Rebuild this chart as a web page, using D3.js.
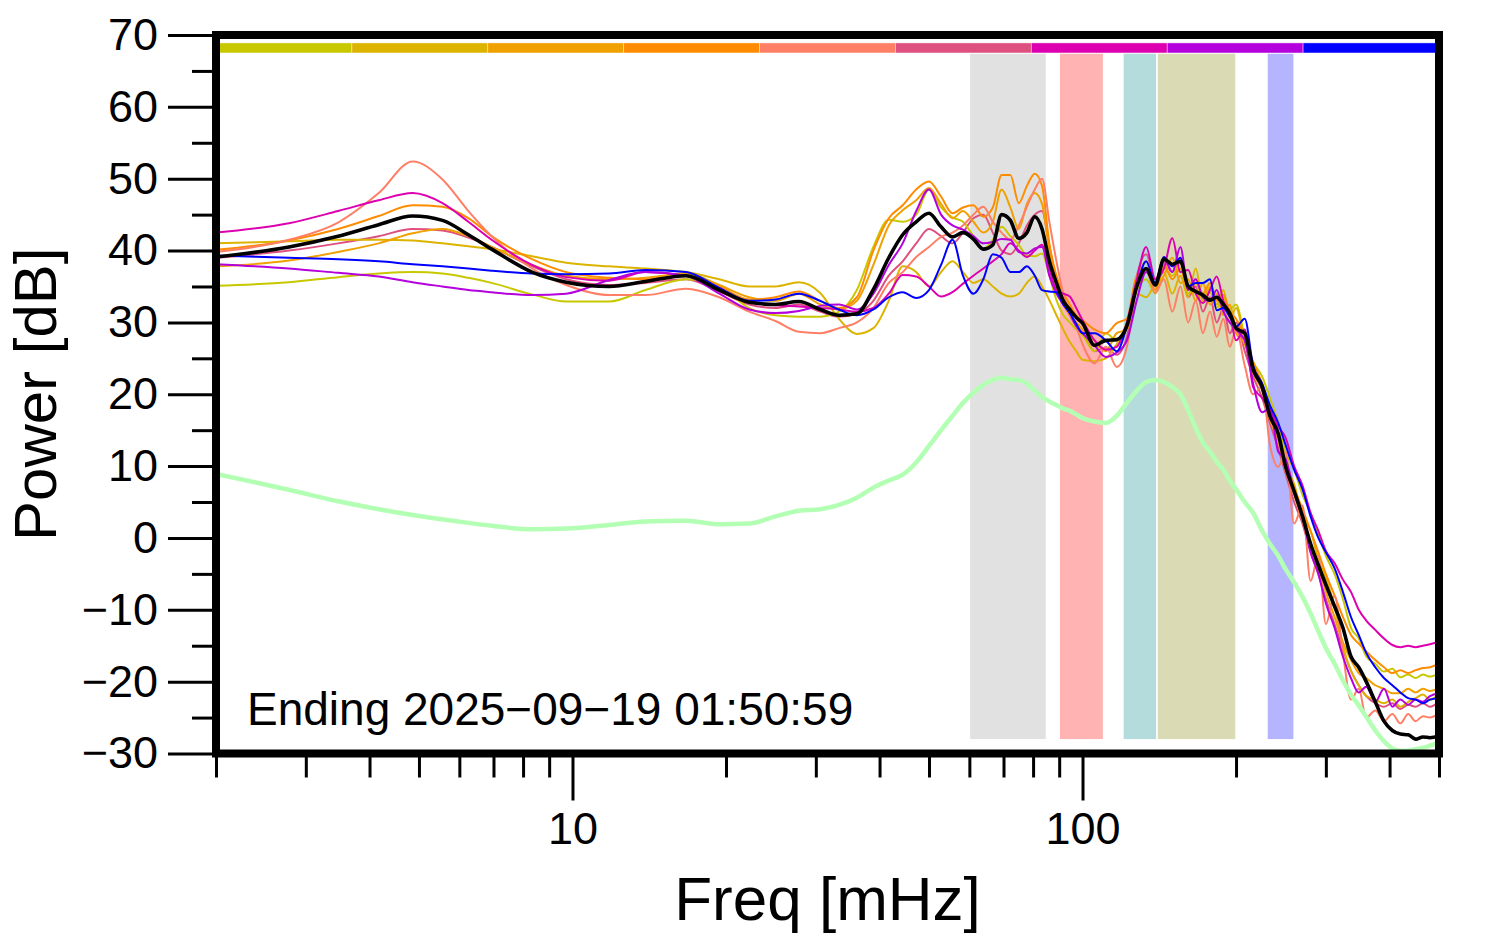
<!DOCTYPE html>
<html><head><meta charset="utf-8">
<script src="https://cdn.jsdelivr.net/npm/d3@7"></script>
<style>body{margin:0;background:#fff}</style>
</head><body>
<svg id="chart" width="1494" height="952"></svg>
<script>
// ---------------- data ----------------
const freq = [2.0, 2.78, 3.47, 4.17, 4.86, 5.56, 6.25, 6.94, 8.33, 9.72,
  11.8, 13.9, 16.7, 19.4, 22.2, 25.0, 27.8, 30.6, 33.3, 36.1,
  38.9, 41.7, 44.4, 47.2, 50.0, 52.8, 55.6, 58.3, 61.1, 63.9,
  66.7, 69.4, 72.2, 75.0, 77.8, 80.6, 83.3, 86.1, 88.9, 91.7,
  94.4, 97.2, 100, 105.6, 111.1, 116.7, 122.2, 127.8, 133.3, 138.9,
  144.4, 150, 155.6, 161.1, 166.7, 172.2, 177.8, 183.3, 188.9, 194.4,
  200, 208, 216, 225, 233, 242, 250, 260, 270, 280,
  290, 300, 312, 324, 336, 348, 360, 375, 390, 405,
  420, 435, 450, 465, 480, 500];

const yellowGreen = [35.1, 35.6, 36.3, 36.8, 37.0, 36.8, 36.2, 35.5, 33.9, 32.9,
  32.9, 34.5, 36.0, 35.0, 32.0, 31.0, 30.8, 30.8, 31.5, 34.5,
  40.5, 44.3, 44.0, 45.0, 48.5, 46.0, 44.6, 44.0, 42.0, 40.2,
  41.5, 43.3, 42.0, 40.8, 39.3, 39.2, 39.6, 36.5, 33.1, 31.0,
  30.0, 29.0, 28.2, 26.0, 28.5, 27.5, 30.0, 34.5, 36.0, 34.0,
  37.5, 36.5, 38.2, 34.0, 35.5, 33.0, 34.2, 32.0, 33.5, 31.8,
  32.5, 28.0, 24.5, 22.5, 19.5, 16.0, 12.0, 9.5, 6.0, 3.5,
  0.5, -2.5, -5.0, -8.5, -12.5, -14.0, -16.5, -17.5, -18.6, -18.2,
  -19.4, -19.0, -19.5, -19.0, -19.3, -18.8];

const goldenrod = [41.0, 41.3, 41.5, 41.5, 41.4, 41.0, 40.6, 40.2, 39.2, 38.3,
  37.8, 37.5, 37.0, 36.0, 35.0, 35.0, 35.6, 34.1, 30.5, 28.4,
  29.2, 33.0, 37.8, 37.0, 35.0, 37.0, 38.5, 37.0, 35.5, 36.0,
  35.0, 34.0, 33.6, 34.0, 35.5, 36.4, 35.0, 33.1, 31.0, 29.0,
  27.3, 26.0, 24.8, 24.6, 25.0, 27.0, 29.5, 34.0, 33.5, 35.5,
  37.0, 34.0, 36.5, 33.5, 37.5, 33.0, 35.0, 32.5, 34.5, 30.5,
  32.0, 27.5, 24.0, 21.0, 17.5, 14.0, 10.0, 7.5, 3.0, 1.0,
  -3.0, -5.5, -9.5, -15.0, -18.5, -20.5, -22.0, -22.5, -23.0, -22.5,
  -23.5, -22.8, -22.3, -21.8, -22.5, -21.8];

const orangeLight = [37.8, 38.6, 39.8, 41.0, 42.4, 43.0, 42.0, 40.5, 38.0, 36.5,
  36.0, 36.2, 36.8, 35.2, 33.5, 33.0, 34.0, 32.5, 31.8, 33.0,
  38.0, 43.5, 45.6, 47.0, 48.7, 46.5, 44.5, 45.5, 44.0, 42.5,
  44.0, 48.5, 46.0, 43.0, 46.5, 48.0, 46.5, 40.0, 35.0, 32.5,
  31.0, 30.0, 29.0, 27.5, 26.0, 28.5, 29.0, 35.5, 38.5, 35.0,
  36.5, 39.0, 35.5, 36.0, 33.0, 35.5, 32.5, 34.0, 31.0, 32.5,
  28.5, 27.0, 23.0, 20.5, 16.5, 13.5, 9.5, 6.0, 2.5, -1.0,
  -4.0, -7.5, -11.0, -14.5, -17.0, -18.8, -19.5, -20.5, -21.0, -21.6,
  -21.6, -21.0, -21.5, -21.0, -21.3, -20.9];

const orangeDark = [40.1, 41.4, 43.0, 44.8, 46.3, 46.1, 44.5, 42.0, 38.8, 37.0,
  36.2, 36.0, 36.5, 35.0, 33.2, 33.5, 34.3, 33.0, 32.0, 33.5,
  40.0, 44.5, 46.3, 48.5, 49.6, 47.5, 45.2, 46.0, 46.3, 44.7,
  46.0, 50.5, 50.5, 46.6, 49.0, 50.7, 49.0, 41.0, 36.5, 34.1,
  32.5, 31.0, 30.3, 29.0, 28.5, 29.9, 30.5, 36.5, 37.0, 34.5,
  38.0, 36.0, 37.5, 34.5, 36.0, 34.0, 35.5, 33.0, 33.8, 31.5,
  30.5, 28.0, 24.5, 21.5, 18.0, 14.5, 11.0, 7.0, 4.0, 1.0,
  -2.0, -5.0, -8.0, -11.0, -13.5, -14.7, -15.8, -17.0, -18.0, -18.8,
  -18.4, -18.8, -18.4, -18.1, -18.0, -17.5];

const salmon = [39.8, 41.5, 43.9, 48.0, 52.4, 49.9, 45.5, 42.0, 37.5, 35.2,
  33.8, 33.8, 34.7, 33.5, 31.5, 30.2, 28.7, 28.5, 29.2, 30.0,
  32.0, 35.5, 37.0, 39.1, 40.5, 41.9, 42.5, 43.5, 45.0, 46.1,
  44.0, 42.5, 41.5, 43.5, 46.1, 48.5, 50.0, 44.0, 38.5, 34.0,
  31.5, 29.4, 27.0, 24.3, 26.6, 23.8, 26.6, 35.0, 37.3, 34.1,
  36.0, 31.5, 35.0, 30.0, 33.0, 28.5, 31.5, 28.0, 30.5, 26.6,
  29.0, 24.0, 20.0, 21.0, 13.0, 9.9, 12.0, 2.0, 4.5, -6.0,
  -2.5, -12.0, -8.0, -16.0, -22.5, -21.0, -25.0, -24.0, -25.5, -24.5,
  -25.8, -24.5, -25.5, -24.8, -25.0, -24.4];

const rose = [39.0, 40.0, 41.0, 42.0, 43.0, 42.8, 41.8, 40.5, 37.8, 36.0,
  35.2, 35.5, 36.0, 34.3, 32.5, 32.0, 32.5, 31.5, 30.8, 31.2,
  33.0, 36.5, 38.5, 41.0, 43.0, 42.0, 41.0, 42.5, 44.5, 45.0,
  42.5, 40.0, 39.5, 41.0, 43.5, 45.0, 45.5, 40.5, 36.0, 33.0,
  31.0, 29.5, 28.5, 26.0, 26.5, 25.5, 28.0, 36.5, 39.5, 36.0,
  38.5, 37.0, 39.0, 33.5, 35.0, 31.5, 33.5, 30.0, 32.0, 28.5,
  30.0, 26.0, 22.5, 19.5, 16.0, 12.5, 9.0, 5.0, 2.0, -2.0,
  -5.0, -8.5, -12.0, -15.5, -18.5, -20.5, -22.0, -23.0, -23.5, -23.0,
  -23.8, -23.2, -23.5, -23.0, -23.5, -22.8];

const magenta = [42.5, 43.8, 45.5, 47.0, 48.0, 46.6, 44.0, 41.5, 38.0, 36.3,
  35.8, 37.0, 36.5, 34.6, 32.8, 32.4, 32.2, 32.0, 31.8, 31.5,
  32.0, 34.0, 36.6, 36.4, 35.0, 33.6, 34.2, 35.4, 36.5, 37.5,
  38.5, 39.5, 41.0, 40.0, 39.1, 40.0, 40.8, 37.5, 34.5, 34.0,
  33.6, 32.0, 30.3, 27.5, 26.2, 26.6, 30.0, 36.0, 40.5, 36.0,
  37.5, 41.7, 37.0, 37.3, 34.0, 32.7, 34.5, 36.4, 33.0, 31.3,
  27.5, 29.0, 21.0, 19.5, 17.8, 15.5, 14.0, 10.0, 7.3, 3.5,
  1.0, -1.8, -3.5, -5.8, -7.5, -10.0, -11.5, -12.8, -14.0, -14.9,
  -15.2, -15.0, -15.2, -15.0, -14.8, -14.4];

const purple = [38.1, 37.5, 36.9, 36.4, 35.6, 35.0, 34.5, 34.2, 33.8, 34.0,
  35.9, 37.0, 36.5, 34.0, 31.8, 31.3, 31.6, 32.3, 32.5, 31.8,
  34.0, 38.0, 41.0, 45.5, 48.5, 45.0, 43.5, 42.9, 42.0, 41.0,
  41.2, 41.6, 41.5, 39.8, 39.6, 40.3, 40.5, 36.5, 34.0, 32.5,
  31.3, 29.5, 28.5, 26.8, 25.2, 25.8, 27.5, 33.1, 37.0, 35.5,
  39.0, 37.0, 40.5, 34.5, 36.0, 33.5, 33.0, 34.5, 31.5, 30.0,
  29.0, 27.5, 21.5, 17.5, 18.0, 12.0, 11.0, 6.5, 3.0, -2.0,
  -5.0, -9.1, -12.5, -16.5, -19.5, -21.5, -20.7, -22.8, -21.0, -23.5,
  -22.5, -23.2, -22.5, -22.8, -22.0, -21.6];

const blue = [39.3, 39.0, 38.8, 38.5, 38.1, 37.8, 37.5, 37.2, 36.8, 36.7,
  36.8, 37.3, 37.0, 34.8, 33.0, 33.2, 34.0, 33.0, 31.8, 31.0,
  31.8, 33.5, 34.2, 33.4, 34.5, 38.0, 41.5, 36.5, 34.0, 36.0,
  39.5, 39.0, 37.0, 37.0, 37.8, 36.5, 34.5, 34.3, 34.2, 32.5,
  31.3, 29.8, 28.5, 28.5, 27.5, 26.0, 29.5, 35.0, 38.5, 35.5,
  39.1, 37.8, 39.0, 35.0, 35.5, 35.5, 36.0, 31.7, 32.0, 30.8,
  29.4, 30.5, 24.0, 21.5, 18.5, 16.0, 13.0, 9.5, 6.8, 3.0,
  0.0, -2.0, -4.2, -7.5, -11.0, -13.5, -16.0, -18.0, -19.5, -20.5,
  -21.5, -22.3, -22.5, -23.0, -22.5, -22.3];

const meanPower = [39.1, 40.5, 42.0, 43.6, 44.8, 44.2, 42.2, 40.2, 37.0, 35.6,
  35.0, 35.7, 36.5, 34.5, 32.8, 32.5, 32.9, 31.8, 31.0, 31.2,
  34.6, 39.0, 42.2, 44.0, 45.2, 43.3, 41.9, 42.5, 41.6, 40.2,
  40.8, 45.0, 44.2, 41.7, 42.5, 44.7, 43.0, 38.5, 35.5, 33.0,
  31.8, 30.7, 29.9, 26.8, 27.5, 27.6, 29.5, 35.0, 37.5, 35.2,
  38.8, 38.1, 38.5, 35.0, 34.3, 33.8, 33.1, 33.5, 32.5, 31.3,
  29.2, 28.5, 23.5, 21.0, 17.0, 14.5, 10.0, 6.5, 3.0, -0.8,
  -3.8, -6.5, -9.5, -12.5, -16.5, -18.0, -20.0, -22.8, -25.5, -26.8,
  -27.3, -27.4, -28.0, -27.7, -27.8, -27.6];

const reference = [8.9, 6.7, 5.1, 4.0, 3.2, 2.6, 2.1, 1.7, 1.2, 1.3,
  1.8, 2.3, 2.4, 1.9, 2.0, 3.0, 3.8, 4.0, 4.6, 5.6,
  7.0, 8.0, 8.8, 10.5, 12.8, 15.0, 17.0, 18.8, 20.2, 21.3,
  22.0, 22.3, 22.1, 22.0, 21.5, 20.5, 19.6, 19.0, 18.5, 18.0,
  17.7, 17.2, 16.7, 16.2, 16.0, 17.0, 18.8, 20.5, 21.7, 22.0,
  21.7, 21.0, 20.0, 17.8, 15.3, 13.3, 12.0, 10.6, 9.5, 8.0,
  6.8, 5.0, 3.5, 1.0, -0.8, -2.5, -4.3, -6.2, -8.2, -10.5,
  -13.0, -15.3, -17.5, -19.8, -21.8, -23.3, -24.9, -26.8, -28.3, -29.3,
  -29.6, -29.6, -29.4, -29.2, -28.9, -28.5];

const seriesColors = ["#c8c800", "#dcb400", "#f0a000", "#ff8c00", "#ff7f66", "#dd5080", "#dd00b0", "#b400dd", "#0000ff"];
const seriesValues = [yellowGreen, goldenrod, orangeLight, orangeDark, salmon, rose, magenta, purple, blue];
const drawOrder = [5, 0, 1, 2, 3, 4, 6, 7, 8];

const bandStart = [60, 90, 120, 140, 230];
const bandEnd = [85, 110, 140, 200, 260];
const bandColors = ["#e1e1e1", "#ffb3b3", "#b5dcdd", "#dadbb5", "#b4b4ff"];
const bandLow = -28.1, bandHigh = 67.5;
const barLow = 67.5, barHigh = 68.9;

const yMajor = [-30, -20, -10, 0, 10, 20, 30, 40, 50, 60, 70];
const yMinor = [-25, -15, -5, 5, 15, 25, 35, 45, 55, 65];
const xMajor = [10, 100];
const xMinor = [2, 3, 4, 5, 6, 7, 8, 9, 20, 30, 40, 50, 60, 70, 80, 90, 200, 300, 400, 500];

const annotation = "Ending 2025\u221209\u221219 01:50:59";
const xTitle = "Freq [mHz]";
const yTitle = "Power [dB]";

// ---------------- drawing ----------------
const FONT = "'Liberation Sans', Arial, Helvetica, sans-serif";
const svg = d3.select("#chart");
const P = {left: 216, right: 1439, top: 35, bottom: 753.5};
const x = d3.scaleLog().domain([2, 500]).range([P.left, P.right]);
const y = d3.scaleLinear().domain([-30, 70]).range([P.bottom, P.top]);

svg.append("defs").append("clipPath").attr("id", "clip")
  .append("rect").attr("x", P.left).attr("y", P.top)
  .attr("width", P.right - P.left).attr("height", P.bottom - P.top);

const g = svg.append("g").attr("clip-path", "url(#clip)");

// shaded frequency bands
g.selectAll("rect.band").data(bandStart).enter().append("rect")
  .attr("class", "band")
  .attr("x", (d) => x(d))
  .attr("width", (d, i) => x(bandEnd[i]) - x(d))
  .attr("y", y(bandHigh))
  .attr("height", y(bandLow) - y(bandHigh))
  .attr("fill", (d, i) => bandColors[i])
  .attr("stroke", "#fff").attr("stroke-width", 1.5);

// colour bar at top
const seg = d3.scaleLinear().domain([0, seriesColors.length]).range([P.left, P.right]);
g.selectAll("rect.seg").data(seriesColors).enter().append("rect")
  .attr("class", "seg")
  .attr("x", (d, i) => seg(i))
  .attr("width", (d, i) => seg(i + 1) - seg(i))
  .attr("y", y(barHigh))
  .attr("height", y(barLow) - y(barHigh))
  .attr("fill", (d) => d)
  .attr("stroke", "#fff").attr("stroke-opacity", 0.5).attr("stroke-width", 0.8);

const line = d3.line()
  .x((d, i) => x(freq[i]))
  .y((d) => y(d))
  .curve(d3.curveMonotoneX);

drawOrder.forEach((k) => {
  g.append("path").datum(seriesValues[k])
    .attr("d", line).attr("fill", "none")
    .attr("stroke", seriesColors[k]).attr("stroke-width", 2)
    .attr("stroke-linejoin", "round");
});
g.append("path").datum(meanPower).attr("d", line).attr("fill", "none")
  .attr("stroke", "#000").attr("stroke-width", 3.6).attr("stroke-linejoin", "round");
g.append("path").datum(reference).attr("d", line).attr("fill", "none")
  .attr("stroke", "#b3ffb3").attr("stroke-width", 4.5).attr("stroke-linejoin", "round");

// annotation
svg.append("text").attr("x", 247).attr("y", 725)
  .attr("font-family", FONT).attr("font-size", 46).attr("fill", "#000")
  .text(annotation);

// axes
function styleAxis(sel) {
  sel.select(".domain").remove();
  sel.selectAll("line").attr("stroke", "#000").attr("stroke-width", 3);
  sel.selectAll("text").attr("font-family", FONT).attr("font-size", 45).attr("fill", "#000");
}
svg.append("g").attr("transform", `translate(${P.left},0)`)
  .call(d3.axisLeft(y).tickValues(yMajor).tickSize(48).tickPadding(10).tickFormat(d3.format("d")))
  .call(styleAxis);
svg.append("g").attr("transform", `translate(${P.left},0)`)
  .call(d3.axisLeft(y).tickValues(yMinor).tickSize(24).tickFormat(""))
  .call(styleAxis);
svg.append("g").attr("transform", `translate(0,${P.bottom})`)
  .call(d3.axisBottom(x).tickValues(xMajor).tickSize(47).tickPadding(12).tickFormat(d3.format("d")))
  .call(styleAxis);
svg.append("g").attr("transform", `translate(0,${P.bottom})`)
  .call(d3.axisBottom(x).tickValues(xMinor).tickSize(24).tickFormat(""))
  .call(styleAxis);

// frame
svg.append("rect").attr("x", P.left).attr("y", P.top)
  .attr("width", P.right - P.left).attr("height", P.bottom - P.top)
  .attr("fill", "none").attr("stroke", "#000").attr("stroke-width", 8);

// titles
svg.append("text").attr("x", (P.left + P.right) / 2).attr("y", 920)
  .attr("text-anchor", "middle").attr("font-family", FONT).attr("font-size", 62)
  .text(xTitle);
svg.append("text").attr("transform", `translate(56,${(P.top + P.bottom) / 2}) rotate(-90)`)
  .attr("text-anchor", "middle").attr("font-family", FONT).attr("font-size", 60)
  .text(yTitle);
</script>
</body></html>
